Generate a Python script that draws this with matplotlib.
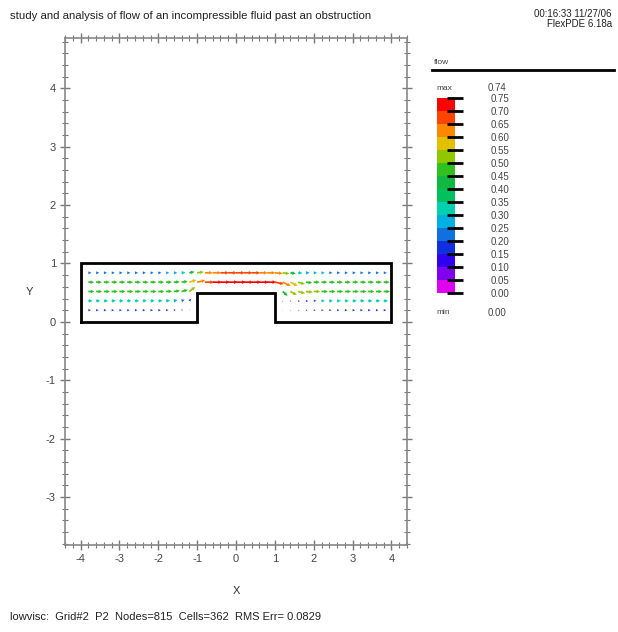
# -*- coding: UTF-8 -*-

"""Velocity vectors of an incompressible fluid past a step obstruction
"""

#+++++++++++++++++++++++++++++++++++++++++++++++++++++++++++++++++++++++++++++#

import numpy as np
import matplotlib
matplotlib.use( 'Agg' )
import matplotlib.pyplot as plt
from matplotlib.colors import ListedColormap, BoundaryNorm

#+++++++++++++++++++++++++++++++++++++++++++++++++++++++++++++++++++++++++++++#

TITLE = 'study and analysis of flow of an incompressible fluid past an obstruction'
STAMP = '00:16:33 11/27/06'
VERSION = 'FlexPDE 6.18a'
FOOTER = 'lowvisc:  Grid#2  P2  Nodes=815  Cells=362  RMS Err= 0.0829'

# channel outline with the obstruction on the floor
wall_x = [ -4, -4, 4, 4, 1, 1, -1, -1, -4 ]
wall_y = [ 0, 1, 1, 0, 0, 0.5, 0.5, 0, 0 ]

# arrow stations along the channel
x_cols = [ -3.8, -3.6, -3.4, -3.2, -3.0, -2.8, -2.6, -2.4, -2.2, -2.0,
           -1.8, -1.6, -1.4, -1.2, -1.0, -0.8, -0.6, -0.4, -0.2, 0.0,
           0.2, 0.4, 0.6, 0.8, 1.0, 1.2, 1.4, 1.6, 1.8, 2.0,
           2.2, 2.4, 2.6, 2.8, 3.0, 3.2, 3.4, 3.6, 3.8 ]

row_y = [ 0.84, 0.68, 0.52, 0.36, 0.20 ]

nan = np.nan

# flow speed per row (nan where the row runs into the obstruction)
speed_a = [ 0.24, 0.24, 0.24, 0.24, 0.24, 0.24, 0.24, 0.24, 0.24, 0.24,
            0.25, 0.27, 0.30, 0.40, 0.52, 0.60, 0.64, 0.65, 0.66, 0.66,
            0.66, 0.65, 0.64, 0.63, 0.60, 0.52, 0.42, 0.33, 0.28, 0.26,
            0.25, 0.24, 0.24, 0.24, 0.24, 0.24, 0.24, 0.24, 0.24 ]
speed_b = [ 0.45, 0.45, 0.45, 0.45, 0.45, 0.45, 0.45, 0.45, 0.45, 0.45,
            0.45, 0.46, 0.48, 0.55, 0.63, 0.69, 0.71, 0.72, 0.73, 0.74,
            0.73, 0.72, 0.71, 0.70, 0.68, 0.64, 0.58, 0.52, 0.48, 0.46,
            0.45, 0.45, 0.45, 0.45, 0.45, 0.45, 0.45, 0.45, 0.45 ]
speed_c = [ 0.47, 0.47, 0.47, 0.47, 0.47, 0.47, 0.47, 0.47, 0.47, 0.47,
            0.47, 0.48, 0.49, 0.50, nan, nan, nan, nan, nan, nan,
            nan, nan, nan, nan, nan, 0.44, 0.52, 0.53, 0.52, 0.50,
            0.49, 0.48, 0.48, 0.48, 0.48, 0.48, 0.48, 0.48, 0.48 ]
speed_d = [ 0.33, 0.33, 0.33, 0.33, 0.33, 0.33, 0.33, 0.33, 0.33, 0.33,
            0.32, 0.29, 0.24, 0.16, nan, nan, nan, nan, nan, nan,
            nan, nan, nan, nan, nan, 0.06, 0.09, 0.13, 0.17, 0.21,
            0.25, 0.28, 0.30, 0.32, 0.33, 0.34, 0.34, 0.34, 0.34 ]
speed_e = [ 0.19, 0.19, 0.19, 0.19, 0.19, 0.19, 0.19, 0.19, 0.19, 0.19,
            0.18, 0.15, 0.11, 0.05, nan, nan, nan, nan, nan, nan,
            nan, nan, nan, nan, nan, 0.03, 0.05, 0.08, 0.11, 0.14,
            0.16, 0.17, 0.18, 0.19, 0.19, 0.19, 0.19, 0.19, 0.19 ]

# flow direction per row, degrees from +x
angle_a = [ 0, 0, 0, 0, 0, 0, 0, 0, 0, 0,
            0, 0, 3, 8, 5, 0, 0, 0, 0, 0,
            0, 0, 0, 0, -3, -5, -5, -3, 0, 0,
            0, 0, 0, 0, 0, 0, 0, 0, 0 ]
angle_b = [ 0, 0, 0, 0, 0, 0, 0, 0, 0, 0,
            0, 2, 5, 12, 8, 0, 0, 0, 0, 0,
            0, 0, 0, 0, -8, -18, -20, -12, -5, 0,
            0, 0, 0, 0, 0, 0, 0, 0, 0 ]
angle_c = [ 0, 0, 0, 0, 0, 0, 0, 0, 0, 0,
            2, 5, 10, 28, 0, 0, 0, 0, 0, 0,
            0, 0, 0, 0, 0, -30, -20, -10, -4, 0,
            0, 0, 0, 0, 0, 0, 0, 0, 0 ]
angle_d = [ 0, 0, 0, 0, 0, 0, 0, 0, 0, 0,
            3, 8, 15, 40, 0, 0, 0, 0, 0, 0,
            0, 0, 0, 0, 0, -60, -30, -15, -5, 0,
            0, 0, 0, 0, 0, 0, 0, 0, 0 ]
angle_e = [ 0, 0, 0, 0, 0, 0, 0, 0, 0, 0,
            2, 6, 15, 35, 0, 0, 0, 0, 0, 0,
            0, 0, 0, 0, 0, -80, -40, -15, -5, 0,
            0, 0, 0, 0, 0, 0, 0, 0, 0 ]

speeds = [ speed_a, speed_b, speed_c, speed_d, speed_e ]
angles = [ angle_a, angle_b, angle_c, angle_d, angle_e ]

# legend bands, 0.00 .. 0.75
levels = [ 0.00, 0.05, 0.10, 0.15, 0.20, 0.25, 0.30, 0.35,
           0.40, 0.45, 0.50, 0.55, 0.60, 0.65, 0.70, 0.75 ]
level_labels = [ '0.00', '0.05', '0.10', '0.15', '0.20', '0.25', '0.30', '0.35',
                 '0.40', '0.45', '0.50', '0.55', '0.60', '0.65', '0.70', '0.75' ]
band_colors = [ '#e000f0', '#8000f0', '#3000f0', '#1030e0', '#1070e0',
                '#00b0e0', '#00d0b0', '#00c060', '#10b840', '#30c020',
                '#90c800', '#e0c000', '#ff8800', '#ff4400', '#ff0000' ]
v_max = 0.74
v_min = 0.00

#+++++++++++++++++++++++++++++++++++++++++++++++++++++++++++++++++++++++++++++#

plt.rcParams[ 'font.family' ] = [ 'Liberation Sans', 'DejaVu Sans' ]
plt.rcParams[ 'axes.unicode_minus' ] = False

cmap = ListedColormap( band_colors )
norm = BoundaryNorm( levels, cmap.N )

fig = plt.figure( figsize = ( 6.18, 6.32 ), dpi = 100 )

ax = fig.add_axes( [ 65 / 618, 1 - 545 / 632, 342 / 618, 507 / 632 ] )

X, Y, U, V, C = [ ], [ ], [ ], [ ], [ ]
for y, sp, an in zip( row_y, speeds, angles ):
    for x, s, a in zip( x_cols, sp, an ):
        if np.isnan( s ):
            continue
        X.append( x )
        Y.append( y )
        U.append( s * np.cos( np.radians( a ) ) )
        V.append( s * np.sin( np.radians( a ) ) )
        C.append( s )

ax.quiver( X, Y, U, V, C, cmap = cmap, norm = norm,
           angles = 'xy', scale_units = 'xy', scale = 3.0,
           width = 0.005, headwidth = 2.2, headlength = 2.2,
           headaxislength = 2.0, minlength = 0.3 )

ax.plot( wall_x, wall_y, color = 'black', lw = 2.0, solid_joinstyle = 'miter' )

ax.set_xlim( -4.4, 4.4 )
ax.set_ylim( -3.82, 4.86 )

ax.set_xticks( [ -4, -3, -2, -1, 0, 1, 2, 3, 4 ] )
ax.set_yticks( [ -3, -2, -1, 0, 1, 2, 3, 4 ] )
ax.set_xticks( np.arange( -4.4, 4.41, 0.2 ), minor = True )
ax.set_yticks( np.arange( -3.8, 4.81, 0.2 ), minor = True )
ax.tick_params( which = 'both', direction = 'inout', colors = '#777777',
                top = True, right = True, labelsize = 8, labelcolor = '#444444' )
ax.tick_params( which = 'major', length = 7, width = 1.0, pad = 3 )
ax.tick_params( which = 'minor', length = 4, width = 0.8 )
for sp in ax.spines.values( ):
    sp.set_color( '#888888' )
    sp.set_linewidth( 1.2 )

ax.set_xlabel( 'X', fontsize = 8, color = '#333333', labelpad = 16 )
ax.set_ylabel( 'Y', fontsize = 8, color = '#333333', labelpad = 12, rotation = 0,
               va = 'center' )

# legend
cax = fig.add_axes( [ 437 / 618, 1 - 293 / 632, 18 / 618, 195 / 632 ] )
cb = fig.colorbar( plt.cm.ScalarMappable( norm = norm, cmap = cmap ), cax = cax,
                   ticks = levels )
cb.outline.set_visible( False )
cb.ax.set_yticklabels( level_labels )
cb.ax.tick_params( direction = 'inout', length = 11, width = 2, color = 'black',
                   pad = 20, labelsize = 7, labelcolor = '#444444' )

fig.text( 434 / 618, 1 - 62 / 632, 'flow', fontsize = 6, color = '#444444',
          va = 'center' )
fig.add_artist( plt.Line2D( [ 432 / 618, 614 / 618 ], [ 1 - 70 / 632, 1 - 70 / 632 ],
                            color = 'black', lw = 2 ) )
fig.text( 436 / 618, 1 - 88 / 632, 'max', fontsize = 6, color = '#444444', va = 'center' )
fig.text( 488 / 618, 1 - 88 / 632, '%.2f' % v_max, fontsize = 7, color = '#444444',
          va = 'center' )
fig.text( 436 / 618, 1 - 313 / 632, 'min', fontsize = 6, color = '#444444', va = 'center' )
fig.text( 488 / 618, 1 - 313 / 632, '%.2f' % v_min, fontsize = 7, color = '#444444',
          va = 'center' )

# headings
fig.text( 10 / 618, 1 - 16 / 632, TITLE, fontsize = 8.2, color = '#222222', va = 'center' )
fig.text( 612 / 618, 1 - 14 / 632, STAMP, fontsize = 7, color = '#222222',
          va = 'center', ha = 'right' )
fig.text( 612 / 618, 1 - 24 / 632, VERSION, fontsize = 7, color = '#222222',
          va = 'center', ha = 'right' )
fig.text( 10 / 618, 1 - 617 / 632, FOOTER, fontsize = 8, color = '#222222', va = 'center' )

fig.savefig( 'out.png', dpi = 100 )

#+++++++++++++++++++++++++++++++++++++++++++++++++++++++++++++++++++++++++++++#
